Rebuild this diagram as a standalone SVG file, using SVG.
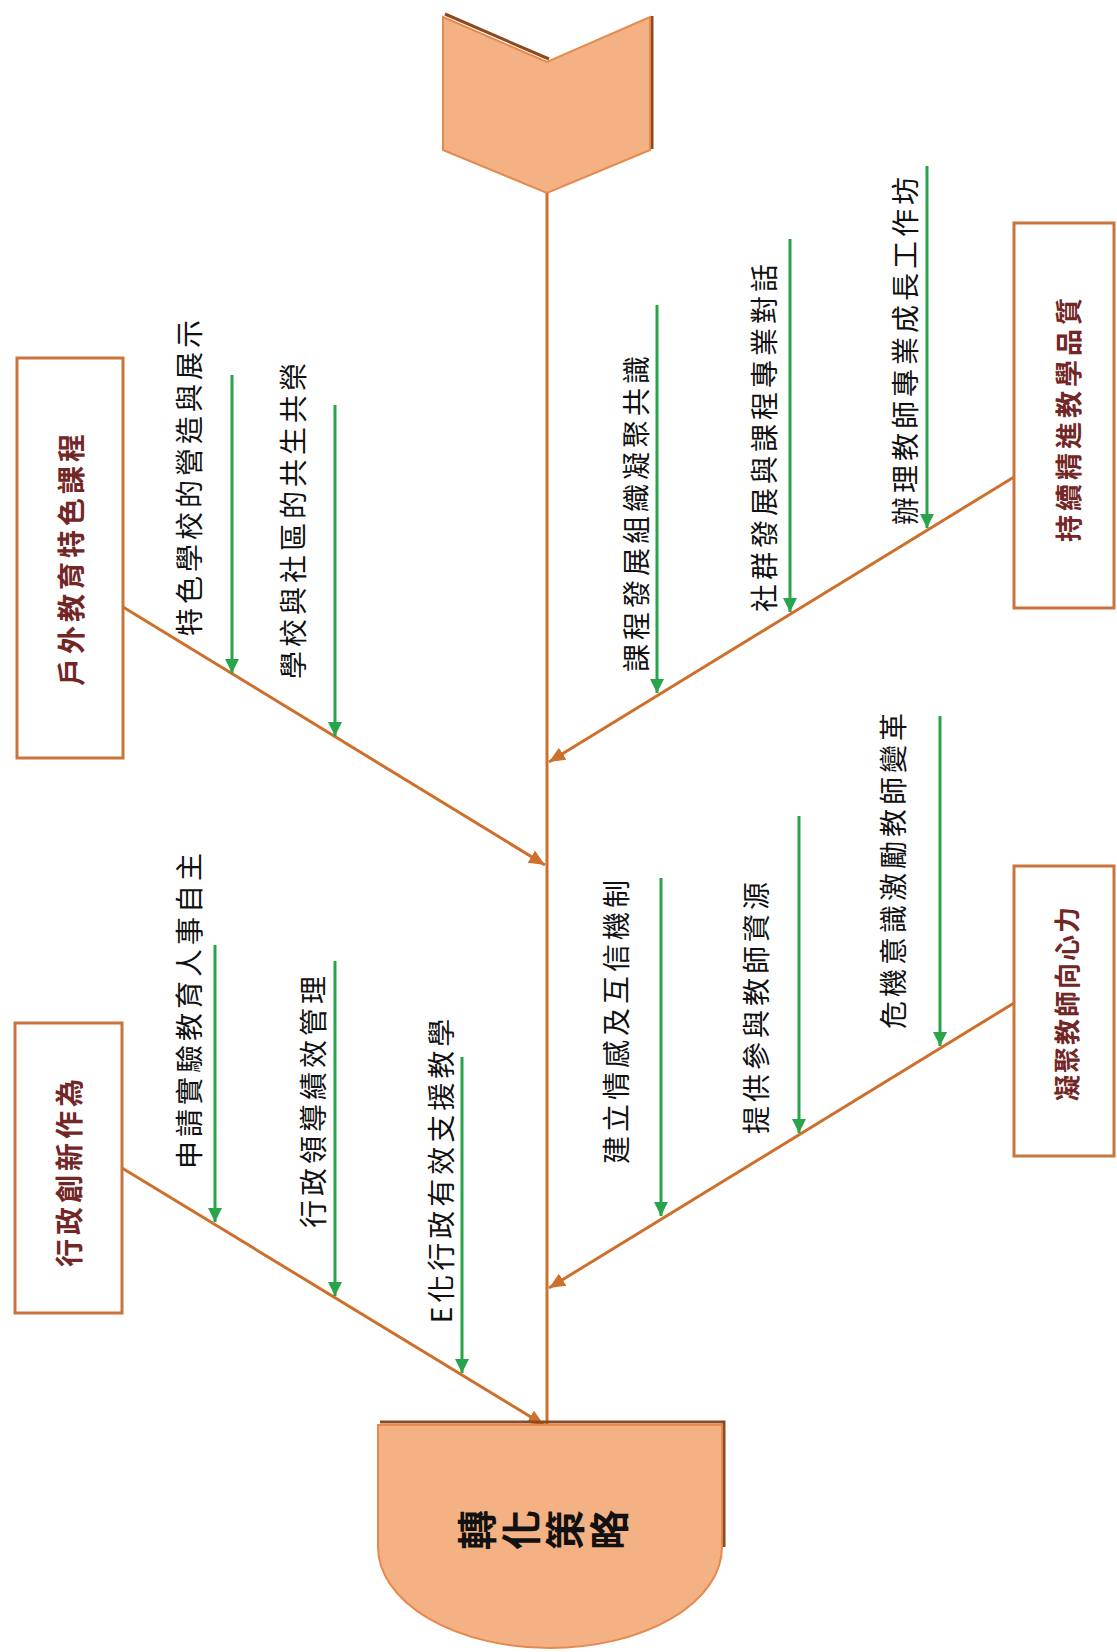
<svg xmlns="http://www.w3.org/2000/svg" width="1117" height="1652" viewBox="0 0 1117 1652">
<style>
.lbl{font-family:"Noto Sans CJK TC","Noto Sans CJK SC",sans-serif;font-size:28px;letter-spacing:4px;fill:#111;text-anchor:middle;dominant-baseline:central}
.btxt{font-family:"Noto Sans CJK TC","Noto Sans CJK SC",sans-serif;font-size:28px;font-weight:bold;letter-spacing:4px;fill:#722626;text-anchor:middle;dominant-baseline:central}
.box{fill:#fff;stroke:#c9743a;stroke-width:3}
.bone{stroke:#cf6f2c;stroke-width:3;fill:none;marker-end:url(#oa)}
.sub{stroke:#28a44b;stroke-width:3;fill:none;marker-end:url(#ga)}
.shape{fill:#f4b183;stroke:#e58a4e;stroke-width:2}
.shadow{fill:none;stroke:#8e4a1f;stroke-width:3}
</style>
<defs>
<marker id="oa" markerUnits="userSpaceOnUse" markerWidth="18" markerHeight="14" refX="16" refY="7" orient="auto"><path d="M0,0 L16,7 L0,14 Z" fill="#cf6f2c"/></marker>
<marker id="ga" markerUnits="userSpaceOnUse" markerWidth="16" markerHeight="14" refX="14" refY="7" orient="auto"><path d="M0,0 L14,7 L0,14 Z" fill="#28a44b"/></marker>
</defs>
<rect width="1117" height="1652" fill="#fff"/>

<g id="tail">
<polyline class="shadow" points="445,14 549,59"/>
<polyline class="shadow" points="652,16 652,149"/>
<polygon class="shape" points="443,17 547,62 650,17 650,150 547,193 443,150"/>
</g>

<g id="connectors">
<line x1="547" y1="193" x2="547" y2="1425" stroke="#cf6f2c" stroke-width="3"/>
<line class="bone" x1="123" y1="607" x2="545" y2="865"/>
<line class="bone" x1="122" y1="1168" x2="544" y2="1425"/>
<line class="bone" x1="1014" y1="477" x2="549" y2="762"/>
<line class="bone" x1="1014" y1="1003" x2="549" y2="1288"/>
<line class="sub" x1="232" y1="375" x2="232" y2="673"/>
<line class="sub" x1="335" y1="405" x2="335" y2="736"/>
<line class="sub" x1="215" y1="945" x2="215" y2="1222"/>
<line class="sub" x1="335" y1="961" x2="335" y2="1296"/>
<line class="sub" x1="462" y1="1057" x2="462" y2="1373"/>
<line class="sub" x1="657" y1="305" x2="657" y2="693"/>
<line class="sub" x1="790" y1="239" x2="790" y2="612"/>
<line class="sub" x1="927" y1="166" x2="927" y2="528"/>
<line class="sub" x1="661" y1="878" x2="661" y2="1216"/>
<line class="sub" x1="799" y1="816" x2="799" y2="1133"/>
<line class="sub" x1="940" y1="716" x2="940" y2="1046"/>
</g>

<g id="head">
<polyline class="shadow" points="380,1422 724,1422 724,1547"/>
<path class="shape" d="M378,1425 L722,1425 L722,1547 A172,101 0 0 1 378,1547 Z"/>
<text transform="translate(545,1530) rotate(-90)" text-anchor="middle" style="writing-mode:vertical-rl;font-family:'Noto Sans CJK TC','Noto Sans CJK SC',sans-serif;font-size:40px;font-weight:bold;letter-spacing:4px;fill:#111">轉化策略</text>
</g>

<g id="box-outdoor">
<rect class="box" x="17" y="358" width="106" height="400"/>
<text class="btxt" transform="translate(70,558) rotate(-90)">戶外教育特色課程</text>
</g>
<g id="box-admin">
<rect class="box" x="15" y="1023" width="107" height="290"/>
<text class="btxt" transform="translate(68,1171) rotate(-90)">行政創新作為</text>
</g>
<g id="box-quality">
<rect class="box" x="1014" y="223" width="100" height="385"/>
<text class="btxt" style="font-size:27px" transform="translate(1067,418) rotate(-90)">持續精進教學品質</text>
</g>
<g id="box-cohesion">
<rect class="box" x="1014" y="866" width="100" height="290"/>
<text class="btxt" style="font-size:26px;letter-spacing:2px" transform="translate(1065,1003) rotate(-90)">凝聚教師向心力</text>
</g>

<g id="labels">
<text class="lbl" transform="translate(188,476) rotate(-90)">特色學校的營造與展示</text>
<text class="lbl" transform="translate(292,519) rotate(-90)">學校與社區的共生共榮</text>
<text class="lbl" transform="translate(188,1009) rotate(-90)">申請實驗教育人事自主</text>
<text class="lbl" transform="translate(312,1100) rotate(-90)">行政領導績效管理</text>
<text class="lbl" transform="translate(440,1169) rotate(-90)">E化行政有效支援教學</text>
<text class="lbl" transform="translate(635,512) rotate(-90)">課程發展組織凝聚共識</text>
<text class="lbl" transform="translate(763,436) rotate(-90)">社群發展與課程專業對話</text>
<text class="lbl" transform="translate(904,349) rotate(-90)">辦理教師專業成長工作坊</text>
<text class="lbl" transform="translate(615,1020) rotate(-90)">建立情感及互信機制</text>
<text class="lbl" transform="translate(755,1006) rotate(-90)">提供參與教師資源</text>
<text class="lbl" transform="translate(892,869) rotate(-90)">危機意識激勵教師變革</text>
</g>
</svg>
